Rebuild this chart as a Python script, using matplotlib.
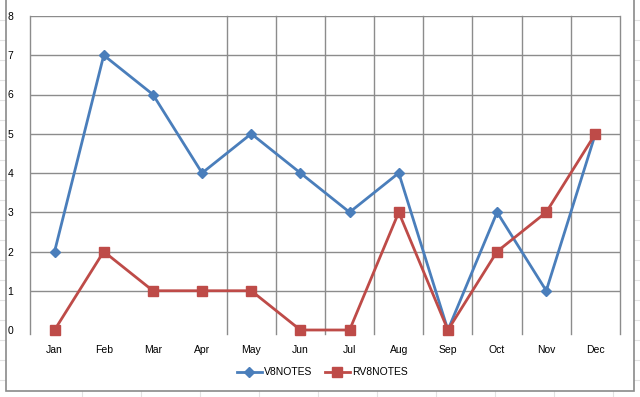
import matplotlib.pyplot as plt
from matplotlib.lines import Line2D
from matplotlib.patches import Rectangle

months = ['Jan', 'Feb', 'Mar', 'Apr', 'May', 'Jun',
          'Jul', 'Aug', 'Sep', 'Oct', 'Nov', 'Dec']
v8notes = [2, 7, 6, 4, 5, 4, 3, 4, 0, 3, 1, 5]
rv8notes = [0, 2, 1, 1, 1, 0, 0, 3, 0, 2, 3, 5]

BLUE = '#4a7ebb'
RED = '#be4b48'
GRID = '#8c8c8c'

plt.rcParams['font.family'] = ['Liberation Sans', 'DejaVu Sans']

fig = plt.figure(figsize=(6.4, 3.97), dpi=100)

# faint spreadsheet cells behind the chart
for xp in [82, 141, 200, 259, 318, 377, 436, 495, 554, 613]:
    fig.add_artist(Line2D([xp / 640, xp / 640], [0, 1], color='#e2e2e2', lw=0.8, zorder=0))
for yp in [20, 40, 60, 80, 100, 120, 140, 160, 180, 200, 220, 240,
           260, 280, 300, 320, 340, 360, 380]:
    fig.add_artist(Line2D([0, 1], [1 - yp / 397, 1 - yp / 397], color='#e2e2e2', lw=0.8, zorder=0))

# chart area
fig.add_artist(Rectangle((6 / 640, 1 - 391 / 397), 628 / 640, 391 / 397 + 0.01,
                         facecolor='white', edgecolor='#8a8a8a', lw=1.2, zorder=1))

ax = fig.add_axes([30 / 640, 1 - 330 / 397, 590 / 640, 314 / 397])
ax.set_zorder(2)
ax.patch.set_alpha(0)

x = list(range(len(months)))
ax.set_xlim(-0.5, 11.5)
ax.set_ylim(0, 8)

for yv in range(1, 9):
    ax.axhline(yv, color=GRID, lw=1, zorder=1)
ax.plot([-0.5, -0.5], [-0.1, 8], color=GRID, lw=1, clip_on=False, zorder=1)
for k in range(4, 13):
    ax.plot([k - 0.5, k - 0.5], [-0.1, 8], color=GRID, lw=1, clip_on=False, zorder=1)

ax.plot(x, v8notes, color=BLUE, lw=2, marker='D', ms=5, label='V8NOTES',
        clip_on=False, zorder=3)
ax.plot(x, rv8notes, color=RED, lw=2, marker='s', ms=7, label='RV8NOTES',
        clip_on=False, zorder=3)

for s in ax.spines.values():
    s.set_visible(False)
ax.set_xticks(x)
ax.set_xticklabels(months)
ax.set_yticks(range(0, 9))
ax.tick_params(length=0, labelsize=7.5, colors='black')
ax.tick_params(axis='x', pad=11)
ax.tick_params(axis='y', pad=12)

ax.legend(loc='center', bbox_to_anchor=(0.495, -0.135), ncol=2, frameon=False,
          fontsize=7.5, handlelength=2.4, columnspacing=1.2, handletextpad=0.2)

fig.savefig('out.png', dpi=100)
